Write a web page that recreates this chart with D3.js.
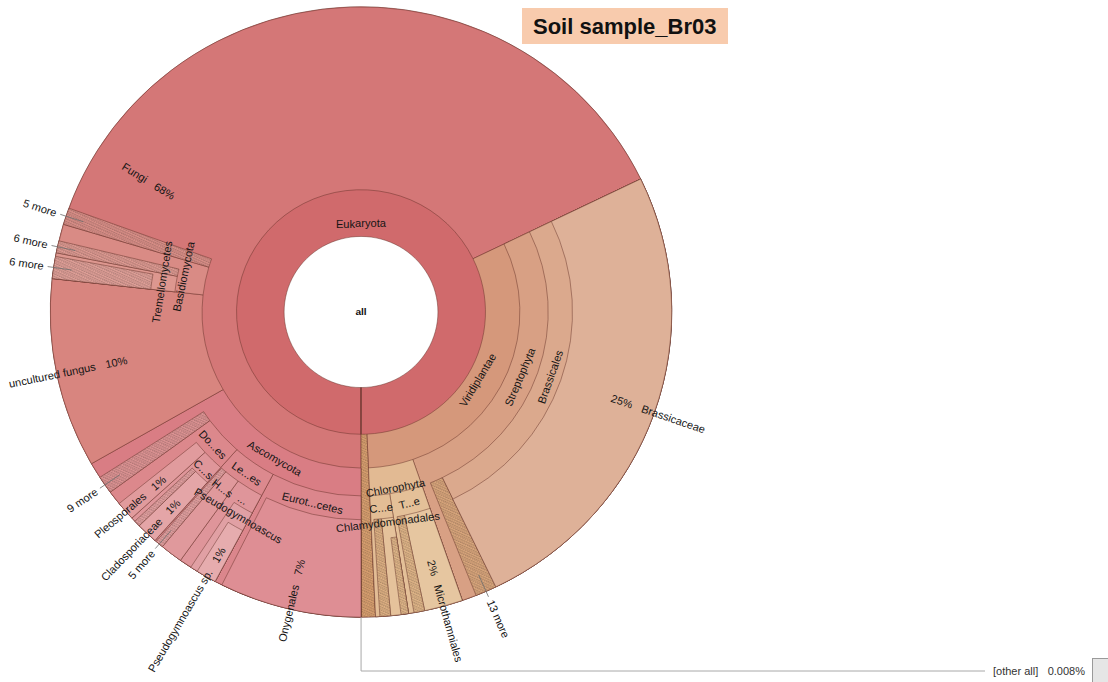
<!DOCTYPE html>
<html>
<head>
<meta charset="utf-8">
<script src="https://cdn.jsdelivr.net/npm/d3@7"></script>
<style>
  body { margin: 0; background: #fff; }
  text { font-family: "Liberation Sans", Arial, sans-serif; }
</style>
</head>
<body>
<svg id="chart"></svg>
<script>
// container
var svgWidth = 1108;
var svgHeight = 682;

// taxonomy table (Krona export): node id, parent id, label, own share of reads in %
var ids = ["all", "euk", "oth",
  "fun", "vir", "eukm",
  "asc", "unc", "bas", "funm",
  "eur", "leo", "dot", "ascm",
  "ony", "leoX", "hel", "leom", "psg", "pss",
  "cap", "ple", "cla", "capm",
  "tre", "basm", "trem",
  "str", "chl", "brl", "strm", "bra",
  "tre2", "chc", "mic", "tre2m", "chm", "chcm", "chmm"];

var parentIds = ["", "all", "all",
  "euk", "euk", "euk",
  "fun", "fun", "fun", "fun",
  "asc", "asc", "asc", "asc",
  "eur", "leo", "leo", "leo", "leoX", "psg",
  "dot", "dot", "cap", "cap",
  "bas", "bas", "tre",
  "vir", "vir", "str", "str", "brl",
  "chl", "chl", "tre2", "tre2", "chc", "chc", "chm"];

var labels = ["all", "Eukaryota", "[other all]",
  "Fungi", "Viridiplantae", "3 more",
  "Ascomycota", "uncultured fungus", "Basidiomycota", "5 more",
  "Eurot...cetes", "Le...es", "Do...es", "9 more",
  "Onygenales", "...", "H...s", "5 more", "Pseudogymnoascus", "Pseudogymnoascus sp.",
  "C...s", "Pleosporales", "Cladosporiaceae", "2 more",
  "Tremellomycetes", "6 more", "6 more",
  "Streptophyta", "Chlorophyta", "Brassicales", "13 more", "Brassicaceae",
  "T...e", "C...e", "Microthamniales", "3 more", "Chlamydomonadales", "2 more", "2 more"];

var ownPercent = [0, 0, 0.008,
  37.30, 0, 0.74,
  0.83, 10.03, 0.89, 0.89,
  0.39, 0.08, 0.75, 0.94,
  7.39, 0.64, 1.17, 0.42, 0.39, 1.06,
  0.22, 1.00, 1.11, 0.33,
  0.19, 0.64, 1.17,
  0.75, 0, 0, 1.11, 25.03,
  0.28, 0.22, 2.00, 0.56, 0.53, 0.56, 0.39];

var title = "Soil sample_Br03";

// ---------------- layout / style ----------------
var cx = 361, cy = 312;
var R = 307;
var ringStart = [0, 76, 123, 157, 185, 209, 229, 249];
var labelR = [0, 89, 134, 170, 198, 220, 238, 255];
var labelROverride = { bas: 179, chl: 180, tre: 199, chm: 213, cap: 222, hel: 224, leoX: 222 };

var fills = {
  euk: "#d06a6c", oth: "#e6e6e6", fun: "#d47777", vir: "#d5987b", eukm: "#d9a070",
  asc: "#d97d84", unc: "#d8857f", bas: "#d98b85", funm: "#da8f88",
  eur: "#db868c", leo: "#dc898e", dot: "#dc888c", ascm: "#de9494",
  ony: "#de8e94", leoX: "#df959a", hel: "#e0999c", leom: "#e2a0a0", psg: "#e1a0a4", pss: "#e6acae",
  cap: "#df969a", ple: "#e19b9d", cla: "#e4a5a7", capm: "#e2a0a0",
  tre: "#dd978f", basm: "#de9a92", trem: "#e0a098",
  str: "#d8a084", chl: "#e2ba93", brl: "#dba98d", strm: "#d9a67c", bra: "#deb198",
  tre2: "#e4c098", chc: "#e3bd95", mic: "#e6c6a0", tre2m: "#e0b588", chm: "#e5c29b",
  chcm: "#deb083", chmm: "#e0b588"
};

var hatched = ["eukm", "funm", "ascm", "leom", "capm", "basm", "trem", "strm", "tre2m", "chcm", "chmm"];
var keyed = ["funm", "basm", "trem", "ascm", "leom", "strm"];
var tangential = ["euk", "vir", "asc", "bas", "eur", "leo", "dot", "leoX", "hel", "psg", "cap",
  "tre", "str", "chl", "brl", "tre2", "chc", "chm"];
// split radius between percentage and name for radial labels
var radial = { fun: 245, unc: 263, ony: 277, pss: 295, ple: 277, cla: 283, bra: 289, mic: 280 };

// ---------------- hierarchy ----------------
var rows = ids.map(function(id, i) {
  return { id: id, parent: parentIds[i], name: labels[i], value: ownPercent[i] };
});

var root = d3.stratify()
  .id(function(d) { return d.id; })
  .parentId(function(d) { return d.parent; })(rows);

root.sum(function(d) { return d.value; });
d3.partition().size([2 * Math.PI, 1])(root);

// chart starts at 6 o'clock and runs clockwise
function screenDeg(x) { return 90 + x * 180 / Math.PI; }
function polar(deg, r) {
  var a = deg * Math.PI / 180;
  return [r * Math.cos(a), r * Math.sin(a)];
}
function norm(a) { return ((a % 360) + 540) % 360 - 180; }

// SVG
var svg = d3.select("#chart")
  .attr("width", svgWidth)
  .attr("height", svgHeight);

var defs = svg.append("defs");
hatched.forEach(function(id) {
  var base = fills[id];
  var p = defs.append("pattern")
    .attr("id", "hatch-" + id)
    .attr("patternUnits", "userSpaceOnUse")
    .attr("patternTransform", "rotate(25)")
    .attr("width", 5).attr("height", 5);
  p.append("rect").attr("width", 5).attr("height", 5).attr("fill", base);
  p.append("path")
    .attr("d", "M0,1.2 L1.25,0 L2.5,1.2 L3.75,0 L5,1.2 M0,3.7 L1.25,2.5 L2.5,3.7 L3.75,2.5 L5,3.7")
    .attr("fill", "none")
    .attr("stroke", d3.color(base).darker(1.1))
    .attr("stroke-width", 0.7);
});

var chartGroup = svg.append("g")
  .attr("transform", "translate(" + cx + "," + cy + ") scale(1.012,0.994)");

var arc = d3.arc()
  .innerRadius(function(d) { return ringStart[d.depth]; })
  .outerRadius(R)
  .startAngle(function(d) { return Math.PI + d.x0; })
  .endAngle(function(d) { return Math.PI + d.x1; });

var nodes = root.descendants().filter(function(d) { return d.depth > 0; });

chartGroup.selectAll("path.wedge")
  .data(nodes)
  .enter()
  .append("path")
  .attr("class", "wedge")
  .attr("d", arc)
  .attr("fill", function(d) {
    return hatched.indexOf(d.id) >= 0 ? "url(#hatch-" + d.id + ")" : fills[d.id];
  })
  .attr("stroke", "rgba(95,45,35,0.5)")
  .attr("stroke-width", 0.9);

// centre
chartGroup.append("text")
  .attr("text-anchor", "middle")
  .attr("dominant-baseline", "central")
  .attr("font-size", "10px")
  .attr("font-weight", "bold")
  .attr("fill", "#111")
  .text(root.data.name);

var labelGroup = chartGroup.append("g")
  .attr("font-size", "11px")
  .attr("fill", "#151515");

nodes.forEach(function(d) {
  var mid = screenDeg((d.x0 + d.x1) / 2);
  var deg = ((mid % 360) + 360) % 360;
  var flip = deg > 90 && deg < 270;

  if (tangential.indexOf(d.id) >= 0) {
    var r = labelROverride[d.id] || labelR[d.depth];
    var p = polar(mid, r);
    var rot = norm(mid - 90);
    if (rot > 90) rot -= 180;
    if (rot < -90) rot += 180;
    labelGroup.append("text")
      .attr("transform", "translate(" + p[0] + "," + p[1] + ") rotate(" + rot + ")")
      .attr("text-anchor", "middle")
      .attr("dominant-baseline", "central")
      .text(d.data.name);
  } else if (radial[d.id]) {
    var rs = radial[d.id];
    var pct = Math.round(d.value) + "%";
    var g = labelGroup.append("g")
      .attr("transform", "rotate(" + (flip ? mid + 180 : mid) + ")");
    var s = flip ? -1 : 1;
    g.append("text")
      .attr("x", s * (rs - 5))
      .attr("text-anchor", flip ? "start" : "end")
      .attr("dominant-baseline", "central")
      .text(pct);
    g.append("text")
      .attr("x", s * (rs + 5))
      .attr("text-anchor", flip ? "end" : "start")
      .attr("dominant-baseline", "central")
      .text(d.data.name);
  } else if (keyed.indexOf(d.id) >= 0) {
    var a = polar(mid, R - 18), b = polar(mid, R + 6);
    labelGroup.append("line")
      .attr("x1", a[0]).attr("y1", a[1])
      .attr("x2", b[0]).attr("y2", b[1])
      .attr("stroke", "#6d6d6d")
      .attr("stroke-width", 0.8);
    var gk = labelGroup.append("g")
      .attr("transform", "rotate(" + (flip ? mid + 180 : mid) + ")");
    gk.append("text")
      .attr("x", (flip ? -1 : 1) * (R + 10))
      .attr("text-anchor", flip ? "end" : "start")
      .attr("dominant-baseline", "central")
      .text(d.data.name);
  }
});

// key for the tiny "other" wedge
var other = root.children.find(function(d) { return d.id === "oth"; });
var kp = polar(screenDeg((other.x0 + other.x1) / 2), R);
var kx = cx + kp[0] * 1.012, ky = cy + kp[1] * 0.994;
var keyY = 671;

svg.append("path")
  .attr("d", "M" + kx + "," + ky + " L" + kx + "," + keyY + " L985," + keyY)
  .attr("fill", "none")
  .attr("stroke", "#a8a8a8")
  .attr("stroke-width", 1);

svg.append("text")
  .attr("x", 993)
  .attr("y", keyY + 4)
  .attr("font-size", "11px")
  .attr("fill", "#333")
  .text(other.data.name);

svg.append("text")
  .attr("x", 1085)
  .attr("y", keyY + 4)
  .attr("text-anchor", "end")
  .attr("font-size", "11px")
  .attr("fill", "#333")
  .text(d3.format(".3f")(other.value) + "%");

svg.append("rect")
  .attr("x", 1092.5).attr("y", 658.5)
  .attr("width", 24).attr("height", 24)
  .attr("fill", fills.oth)
  .attr("stroke", "#9a9a9a");

// title box
svg.append("rect")
  .attr("x", 522).attr("y", 8)
  .attr("width", 206).attr("height", 36)
  .attr("fill", "#f8cbad");

svg.append("text")
  .attr("x", 533)
  .attr("y", 34)
  .attr("font-size", "22px")
  .attr("font-weight", "bold")
  .attr("fill", "#111")
  .text(title);
</script>
</body>
</html>
